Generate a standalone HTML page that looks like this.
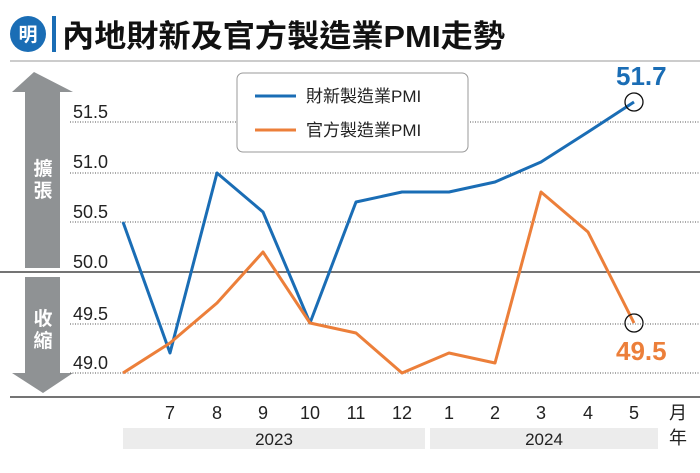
<!DOCTYPE html>
<html><head><meta charset="utf-8"><style>
body{margin:0;background:#fff;}
svg{display:block;font-family:"Liberation Sans","Noto Sans CJK TC",sans-serif;}
</style></head><body>
<svg width="700" height="473" viewBox="0 0 700 473" xmlns="http://www.w3.org/2000/svg">
<rect width="700" height="473" fill="#fff"/>
<circle cx="28" cy="34" r="18" fill="#1a6db5"/>
<text x="28" y="41" font-size="19" fill="#fff" text-anchor="middle" font-weight="bold" font-family="Noto Sans CJK TC,sans-serif">明</text>
<rect x="52" y="16" width="4" height="36" fill="#1a6db5"/>
<text x="62" y="47" font-size="31" font-weight="bold" fill="#111" textLength="443" lengthAdjust="spacingAndGlyphs">內地財新及官方製造業PMI走勢</text>
<line x1="10" y1="61" x2="700" y2="61" stroke="#999" stroke-width="1"/>
<polygon points="34,72 12,92 25,92 25,268 60,268 60,92 73,92" fill="#8f9294"/>
<polygon points="25,277 60,277 60,373 73,373 43,393 12,373 25,373" fill="#8f9294"/>
<text x="43" y="175" font-size="19" font-weight="bold" fill="#fff" text-anchor="middle">擴</text>
<text x="43" y="197" font-size="19" font-weight="bold" fill="#fff" text-anchor="middle">張</text>
<text x="43" y="325" font-size="19" font-weight="bold" fill="#fff" text-anchor="middle">收</text>
<text x="43" y="347" font-size="19" font-weight="bold" fill="#fff" text-anchor="middle">縮</text>
<g stroke="#555" stroke-width="1" stroke-dasharray="1,1.5">
<line x1="70" y1="122" x2="700" y2="122"/>
<line x1="70" y1="173" x2="700" y2="173"/>
<line x1="70" y1="222" x2="700" y2="222"/>
<line x1="70" y1="324" x2="700" y2="324"/>
<line x1="70" y1="373" x2="700" y2="373"/>
</g>
<line x1="0" y1="272" x2="700" y2="272" stroke="#222" stroke-width="1.3"/>
<line x1="10" y1="397" x2="700" y2="397" stroke="#222" stroke-width="1.3"/>
<g font-size="18" fill="#222">
<text x="73" y="118">51.5</text><text x="73" y="168">51.0</text><text x="73" y="218">50.5</text>
<text x="73" y="268">50.0</text><text x="73" y="320">49.5</text><text x="73" y="369">49.0</text>
</g>
<g font-size="18" fill="#222" text-anchor="middle">
<text x="170" y="419">7</text><text x="217" y="419">8</text><text x="263" y="419">9</text><text x="310" y="419">10</text>
<text x="356" y="419">11</text><text x="402" y="419">12</text><text x="449" y="419">1</text><text x="495" y="419">2</text>
<text x="541" y="419">3</text><text x="588" y="419">4</text><text x="634" y="419">5</text>
<text x="678" y="419">月</text><text x="678" y="444">年</text>
</g>
<rect x="123" y="428" width="302" height="21" fill="#ececec"/>
<rect x="430" y="428" width="228" height="21" fill="#ececec"/>
<text x="274" y="445" font-size="17" fill="#222" text-anchor="middle">2023</text>
<text x="544" y="445" font-size="17" fill="#222" text-anchor="middle">2024</text>
<rect x="237" y="73" width="231" height="79" rx="6" fill="#fff" stroke="#999"/>
<line x1="255" y1="96" x2="296" y2="96" stroke="#1a6db5" stroke-width="3"/>
<line x1="255" y1="130" x2="296" y2="130" stroke="#ec7f3a" stroke-width="3"/>
<text x="306" y="102" font-size="17" fill="#222">財新製造業PMI</text>
<text x="306" y="136" font-size="17" fill="#222">官方製造業PMI</text>
<polyline fill="none" stroke="#1a6db5" stroke-width="3" stroke-linejoin="round"
points="123,222 170,353 217,173 263,212 310,323 356,202 402,192 449,192 495,182 541,162 588,132 634,102"/>
<polyline fill="none" stroke="#ec7f3a" stroke-width="3" stroke-linejoin="round"
points="123,373 170,343 217,303 263,252 310,323 356,333 402,373 449,353 495,363 541,192 588,232 634,323"/>
<circle cx="634" cy="102" r="9" fill="none" stroke="#111" stroke-width="1.3"/>
<circle cx="634" cy="323" r="9" fill="none" stroke="#111" stroke-width="1.3"/>
<text x="616" y="85" font-size="26" font-weight="bold" fill="#1a6db5">51.7</text>
<text x="616" y="360" font-size="26" font-weight="bold" fill="#ec7f3a">49.5</text>
</svg>
</body></html>
